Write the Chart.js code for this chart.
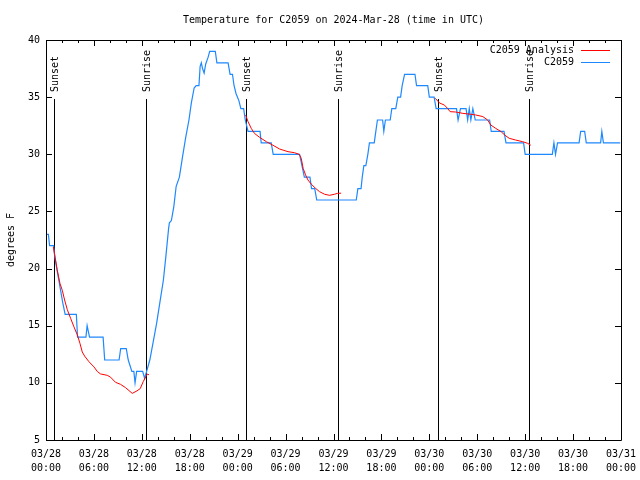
<!DOCTYPE html>
<html>
<head>
<meta charset="utf-8">
<script src="https://cdn.jsdelivr.net/npm/chart.js@4.4.1/dist/chart.umd.min.js"></script>
<style>
  html, body { margin: 0; padding: 0; background: #fff; }
  #chart { display: block; }
</style>
</head>
<body>
<canvas id="chart" width="640" height="480"></canvas>
<script>
// hours since 03/28 00:00 UTC
const obsHours = [0.0, 0.3, 0.45, 0.95, 1.1, 1.35, 1.6, 1.85, 2.1, 2.4, 3.8, 3.95, 5.0, 5.15, 5.3, 5.45, 7.15, 7.35, 9.15, 9.35,
    10.05, 10.3, 10.75, 11.0, 11.15, 11.35, 12.1, 12.35, 12.6, 13.0, 13.4, 13.85, 14.25, 14.7, 15.0, 15.35, 15.45, 15.7, 16.0, 16.3,
    16.7, 17.1, 17.5, 17.9, 18.2, 18.55, 18.8, 19.15, 19.3, 19.45, 19.6, 19.8, 20.0, 20.3, 20.5, 21.2, 21.4, 22.8, 23.05, 23.35,
    23.55, 23.8, 24.15, 24.4, 24.75, 24.95, 25.3, 26.8, 26.95, 28.2, 28.45, 31.75, 32.05, 32.35, 33.05, 33.25, 33.65, 33.9, 38.85, 39.05,
    39.45, 39.6, 39.8, 40.05, 40.3, 40.5, 41.1, 41.3, 41.5, 42.15, 42.3, 42.5, 43.1, 43.3, 43.8, 44.05, 44.4, 44.6, 44.9, 46.2,
    46.4, 47.8, 48.0, 48.6, 48.85, 51.4, 51.6, 51.9, 52.6, 52.8, 53.0, 53.2, 53.45, 53.75, 55.55, 55.75, 57.35, 57.6, 59.8, 60.0,
    63.4, 63.6, 63.8, 64.05, 66.75, 66.95, 67.45, 67.65, 69.45, 69.6, 69.8, 71.9];
const obsTemps = [23, 23, 22, 22, 21, 20, 19, 18, 17, 16, 16, 14, 14, 15, 14.5, 14, 14, 12, 12, 13,
    13, 12, 11, 11, 10, 11, 11, 10.4, 11, 12, 13.5, 15.2, 17, 19, 21, 23.5, 24, 24.2, 25.4, 27.2,
    28, 29.8, 31.5, 33, 34.5, 35.8, 36, 36, 37.7, 38, 37.5, 37.1, 37.9, 38.5, 39, 39, 38, 38, 37, 37,
    36, 35.3, 34.7, 34, 34, 33, 32, 32, 31, 31, 30, 30, 29, 28, 28, 27, 27, 26, 26, 27,
    27, 28, 29, 29, 30, 31, 31, 32, 33, 33, 32, 33, 33, 34, 34, 35, 35, 36, 37, 37,
    36, 36, 35, 35, 34, 34, 33, 34, 34, 33, 34, 33, 34, 33, 33, 32, 32, 31, 31, 30,
    30, 31, 30, 31, 31, 32, 32, 31, 31, 32, 31, 31];

// analysis, null breaks the line between nights
const anaHours = [0.92, 1.2, 1.4, 1.75, 2.04, 2.33, 2.67, 3.08, 3.5, 3.92, 4.25, 4.54, 4.83, 5.38, 6.0, 6.42, 6.83, 7.67, 8.08, 8.7,
    9.33, 9.96, 10.8, 11.4, 11.8, 12.17, 12.5, 12.7, 12.9, 13.5,
    25.0, 25.3, 25.7, 26.1, 26.75, 27.6, 28.4, 29.25, 30.3, 31.1, 31.7, 31.96, 32.2, 32.5, 32.8, 33.2, 33.75, 34.25, 34.9, 35.5,
    36.1, 36.5, 36.96, 40.0,
    48.75, 49.25, 49.9, 50.3, 50.6, 51.3, 52.2, 53.2, 53.8, 54.7, 55.3, 55.7, 56.3, 57.0, 57.4, 58.0, 58.8, 59.7, 60.3, 60.7];
const anaTemps = [21.9, 20.75, 19.9, 18.7, 18.1, 17.25, 16.4, 15.65, 14.9, 14.2, 13.46, 12.7, 12.35, 11.85, 11.4, 11.0, 10.78, 10.66, 10.5, 10.05,
    9.87, 9.58, 9.08, 9.3, 9.5, 10.1, 10.54, 10.77, 10.7, null,
    33.44, 32.85, 32.27, 31.83, 31.48, 31.1, 30.8, 30.46, 30.23, 30.14, 30.0, 29.65, 28.77, 28.2, 27.75, 27.4, 27.02, 26.73, 26.5, 26.41,
    26.5, 26.58, 26.6, null,
    34.9, 34.5, 34.3, 34.0, 33.73, 33.7, 33.58, 33.5, 33.44, 33.3, 33.0, 32.56, 32.27, 31.98, 31.7, 31.4, 31.25, 31.1, 30.96, 30.8];

const sunHours = [1.04, 12.5, 25.04, 36.54, 49.04, 60.42];
const sunLabels = ['Sunset', 'Sunrise', 'Sunset', 'Sunrise', 'Sunset', 'Sunrise'];
const sunLineTop = 34.8;

const tickDays = ['03/28', '03/28', '03/28', '03/28', '03/29', '03/29', '03/29', '03/29', '03/30', '03/30', '03/30', '03/30', '03/31'];
const tickTimes = ['00:00', '06:00', '12:00', '18:00', '00:00', '06:00', '12:00', '18:00', '00:00', '06:00', '12:00', '18:00', '00:00'];

const FONT = '"DejaVu Sans Mono", monospace';

function toPoints(xs, ys) {
    return xs.map((x, i) => ({ x: x, y: ys[i] }));
}

const gnuplotDecor = {
    id: 'gnuplotDecor',
    beforeDatasetsDraw(chart) {
        const { ctx, chartArea: a, scales: { x, y } } = chart;
        ctx.save();
        ctx.strokeStyle = '#000';
        ctx.lineWidth = 1;
        const top = Math.round(y.getPixelForValue(sunLineTop));
        ctx.font = '10px ' + FONT;
        ctx.fillStyle = '#000';
        sunHours.forEach((h, i) => {
            const px = Math.round(x.getPixelForValue(h)) + 0.5;
            ctx.beginPath();
            ctx.moveTo(px, top);
            ctx.lineTo(px, a.bottom);
            ctx.stroke();
            ctx.save();
            ctx.translate(px + 1, top - 7);
            ctx.rotate(-Math.PI / 2);
            ctx.textAlign = 'left';
            ctx.textBaseline = 'middle';
            ctx.fillText(sunLabels[i], 0, 0);
            ctx.restore();
        });
        ctx.restore();
    },
    afterDatasetsDraw(chart) {
        const { ctx, chartArea: a, scales: { x, y } } = chart;
        ctx.save();
        ctx.strokeStyle = '#000';
        ctx.lineWidth = 1;
        ctx.beginPath();
        ctx.rect(a.left + 0.5, a.top + 0.5, a.right - a.left, a.bottom - a.top);
        x.ticks.forEach(t => {
            const px = Math.round(x.getPixelForValue(t.value)) + 0.5;
            const len = t.value % 6 === 0 ? 6 : 3;
            ctx.moveTo(px, a.bottom);
            ctx.lineTo(px, a.bottom - len);
            ctx.moveTo(px, a.top);
            ctx.lineTo(px, a.top + len);
        });
        y.ticks.forEach(t => {
            const py = Math.round(y.getPixelForValue(t.value)) + 0.5;
            ctx.moveTo(a.left, py);
            ctx.lineTo(a.left + 6, py);
            ctx.moveTo(a.right, py);
            ctx.lineTo(a.right - 6, py);
        });
        ctx.stroke();

        // legend, gnuplot style: text then line sample
        ctx.font = '10px ' + FONT;
        ctx.textAlign = 'right';
        ctx.textBaseline = 'middle';
        chart.data.datasets.forEach((ds, i) => {
            const ly = a.top + 10 + i * 12;
            ctx.fillStyle = '#000';
            ctx.fillText(ds.label, a.right - 47, ly);
            ctx.strokeStyle = ds.borderColor;
            ctx.beginPath();
            ctx.moveTo(a.right - 40, ly + 0.5);
            ctx.lineTo(a.right - 11, ly + 0.5);
            ctx.stroke();
        });

        // title and y axis name
        ctx.fillStyle = '#000';
        ctx.textAlign = 'center';
        ctx.fillText('Temperature for C2059 on 2024-Mar-28 (time in UTC)', (a.left + a.right) / 2, 20);
        ctx.save();
        ctx.translate(11, (a.top + a.bottom) / 2);
        ctx.rotate(-Math.PI / 2);
        ctx.fillText('degrees F', 0, 0);
        ctx.restore();
        ctx.restore();
    }
};

new Chart(document.getElementById('chart'), {
    type: 'line',
    data: {
        datasets: [
            {
                label: 'C2059 Analysis',
                data: toPoints(anaHours, anaTemps),
                borderColor: '#ff0000',
                borderWidth: 1,
                pointRadius: 0,
                tension: 0,
                spanGaps: false
            },
            {
                label: 'C2059',
                data: toPoints(obsHours, obsTemps),
                borderColor: '#1e88ff',
                borderWidth: 1.2,
                pointRadius: 0,
                tension: 0
            }
        ]
    },
    options: {
        responsive: false,
        animation: false,
        layout: { padding: { top: 40, right: 19, left: 0, bottom: 0 } },
        plugins: {
            legend: { display: false },
            title: { display: false },
            tooltip: { enabled: false }
        },
        scales: {
            x: {
                type: 'linear',
                min: 0,
                max: 72,
                grid: { display: false, drawTicks: false },
                border: { display: false },
                afterFit: function(scale) {
                    scale.height = 40;
                    scale.paddingLeft = 0;
                    scale.paddingRight = 0;
                },
                ticks: {
                    stepSize: 2,
                    autoSkip: false,
                    maxRotation: 0,
                    padding: 7,
                    color: '#000',
                    font: { family: FONT, size: 10, lineHeight: 1.4 },
                    callback: function(value) {
                        if (value % 6 !== 0) return '';
                        const i = value / 6;
                        return [tickDays[i], tickTimes[i]];
                    }
                }
            },
            y: {
                min: 5,
                max: 40,
                grid: { display: false, drawTicks: false },
                border: { display: false },
                afterFit: function(scale) {
                    scale.width = 46;
                    scale.paddingTop = 0;
                    scale.paddingBottom = 0;
                },
                ticks: {
                    stepSize: 5,
                    padding: 6,
                    color: '#000',
                    font: { family: FONT, size: 10 }
                }
            }
        }
    },
    plugins: [gnuplotDecor]
});
</script>
</body>
</html>
